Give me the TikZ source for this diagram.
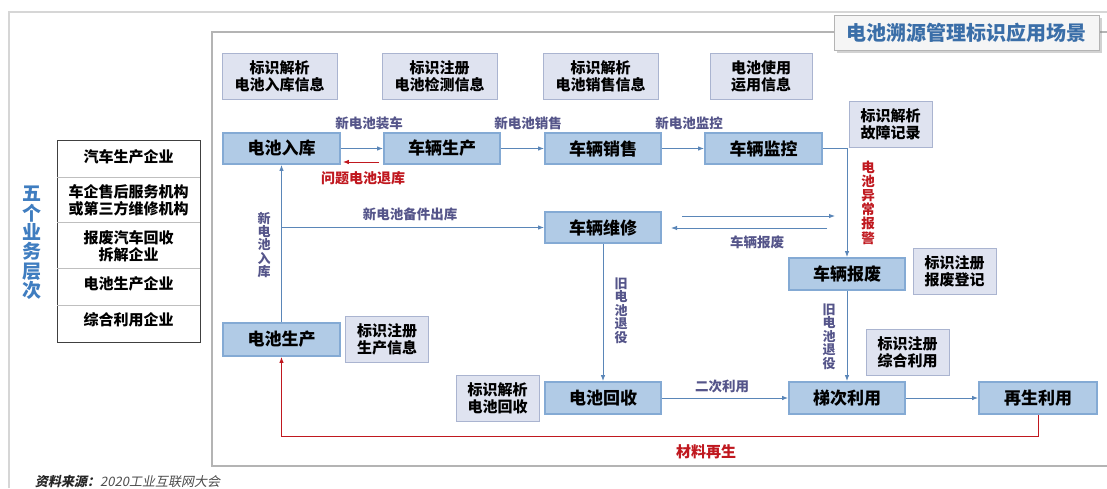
\documentclass[tikz,border=0pt]{standalone}
\usepackage{fontspec}
\setmainfont{Noto Sans CJK SC}
\newfontfamily\slantcjk{Noto Sans CJK SC}[FakeSlant=0.2]
\usetikzlibrary{arrows.meta,shadows}
\definecolor{mainfill}{HTML}{B1CBE6}
\definecolor{mainedge}{HTML}{84AAD4}
\definecolor{infofill}{HTML}{DFE3F0}
\definecolor{infoedge}{HTML}{AAB4D0}
\definecolor{linkblue}{HTML}{5A86B8}
\definecolor{lblgray}{HTML}{55558A}
\definecolor{alarmred}{HTML}{C0181F}
\definecolor{titleblue}{HTML}{3A6EA8}
\definecolor{layerblue}{HTML}{3F7DC0}
\definecolor{framegray}{HTML}{B4B4B4}

\begin{document}
\begin{tikzpicture}[x=1pt,y=-1pt,
    mainbox/.style={draw=mainedge, fill=mainfill, line width=1.8pt, minimum width=116pt,
      minimum height=31pt, inner sep=0pt, font=\fontsize{17}{20}\selectfont\bfseries},
    infobox/.style={draw=infoedge, fill=infofill, line width=0.8pt, minimum width=115pt,
      minimum height=46pt, inner sep=0pt, align=center, font=\fontsize{15}{17}\selectfont\bfseries},
    smallinfo/.style={infobox, minimum width=83pt},
    lbl/.style={text=lblgray, inner sep=0pt, font=\fontsize{13.5}{14}\selectfont\bfseries},
    vlbl/.style={lbl, align=center, font=\fontsize{13}{13.4}\selectfont\bfseries},
    link/.style={draw=linkblue, line width=0.9pt, -{Latex[length=6pt,width=4.5pt]}},
    backlink/.style={link, draw=alarmred},
    tbltext/.style={align=center, inner sep=0pt, font=\fontsize{15}{17}\selectfont\bfseries},
  ]
  \useasboundingbox (0,0) rectangle (1107,488);
  \fill[white] (0,0) rectangle (1107,488);

  % frames
  \draw[framegray!55, line width=1.2pt] (9,488) -- (9,12) -- (1107,12);
  \draw[framegray, line width=1.2pt] (1107,32) -- (212,32) -- (212,466) -- (1107,466);
  \node[draw=framegray, fill=gray!8, line width=0.8pt, drop shadow={opacity=0.35},
    minimum width=265pt, minimum height=35pt, inner sep=0pt, text=titleblue,
    font=\fontsize{20}{22}\selectfont\bfseries] (title) at (966.5,32.5) {电池溯源管理标识应用场景};

  % business layers
  \node[text=layerblue, align=center, inner sep=0pt,
    font=\fontsize{19}{19.4}\selectfont\bfseries] (layers) at (32,243) {五\\个\\业\\务\\层\\次};
  \draw[black!75, line width=1pt] (57,140) rectangle (200,342);
  \foreach \y in {177,222,268,305}
    \draw[black!25, line width=0.8pt] (57,\y) -- (200,\y);
  \node[tbltext] (car) at (128.5,157) {汽车生产企业};
  \node[tbltext] (service) at (128.5,200) {车企售后服务机构\\或第三方维修机构};
  \node[tbltext] (scrapper) at (128.5,246) {报废汽车回收\\拆解企业};
  \node[tbltext] (cellmaker) at (128.5,284) {电池生产企业};
  \node[tbltext] (reuser) at (128.5,320) {综合利用企业};

  % identifier boxes
  \node[infobox] (in1) at (279.5,76) {标识解析\\电池入库信息};
  \node[infobox] (in2) at (439.5,76) {标识注册\\电池检测信息};
  \node[infobox] (in3) at (600.5,76) {标识解析\\电池销售信息};
  \node[infobox, minimum width=102pt] (in4) at (761,76) {电池使用\\运用信息};
  \node[smallinfo] (in5) at (890.5,124) {标识解析\\故障记录};
  \node[smallinfo] (in6) at (954.5,271.5) {标识注册\\报废登记};
  \node[smallinfo] (in7) at (907.5,352.5) {标识注册\\综合利用};
  \node[smallinfo] (in8) at (497.5,398) {标识解析\\电池回收};
  \node[smallinfo] (in9) at (387,339) {标识注册\\生产信息};

  % process boxes
  \node[mainbox, minimum width=117pt] (stock) at (281.5,148.5) {电池入库};
  \node[mainbox] (assembly) at (442,148.5) {车辆生产};
  \node[mainbox] (sales) at (603,148.5) {车辆销售};
  \node[mainbox, minimum width=117pt] (monitor) at (763.5,148.5) {车辆监控};
  \node[mainbox] (repair) at (603,227.5) {车辆维修};
  \node[mainbox, minimum height=32pt] (scrap) at (847,274) {车辆报废};
  \node[mainbox, minimum width=117pt, minimum height=33pt] (produce) at (281.5,339.5) {电池生产};
  \node[mainbox, minimum height=32pt] (recycle) at (603,398) {电池回收};
  \node[mainbox, minimum height=32pt] (cascade) at (847,398) {梯次利用};
  \node[mainbox, minimum width=118pt, minimum height=32pt] (regen) at (1038,398) {再生利用};

  % connectors
  \draw[link] (stock.east) -- (assembly.west);
  \draw[backlink] ([xshift=-4pt,yshift=-13.5pt]assembly.west) -- ([xshift=2pt,yshift=-13.5pt]stock.east);
  \draw[link] (assembly.east) -- (sales.west);
  \draw[link] (sales.east) -- (monitor.west);
  \draw[link] (monitor.east) -| (scrap.north);
  \draw[link] (produce.north) -- (stock.south);
  \draw[link] (produce.north |- repair.west) -- (repair.west);
  \coordinate (toscrap) at (682,216);
  \coordinate (scrapend) at (835,216);
  \coordinate (fromscrap) at (827,228);
  \coordinate (backrepair) at (671,228);
  \draw[link] (toscrap) -- (scrapend);
  \draw[link] (fromscrap) -- (backrepair);
  \draw[link] (repair.south) -- (recycle.north);
  \draw[link] (scrap.south) -- (cascade.north);
  \draw[link] (recycle.east) -- (cascade.west);
  \draw[link] (cascade.east) -- (regen.west);
  \draw[backlink] (regen.south) -- ++(0,22) -| (produce.south);

  % connector labels
  \node[lbl] (mount) at (369,123) {新电池装车};
  \node[lbl] (sell) at (528,123) {新电池销售};
  \node[lbl] (watch) at (689,123) {新电池监控};
  \node[lbl, text=alarmred, font=\fontsize{14}{15}\selectfont\bfseries] (returned) at (363,178) {问题电池退库};
  \node[lbl] (spare) at (410,214) {新电池备件出库};
  \node[lbl] (scrapped) at (757,242) {车辆报废};
  \node[lbl] (second) at (722,386) {二次利用};
  \node[lbl, text=alarmred, font=\fontsize{15}{16}\selectfont\bfseries] (material) at (706,452) {材料再生};
  \node[vlbl] (instock) at (264,245) {新\\电\\池\\入\\库};
  \node[vlbl] (retire1) at (621,310.5) {旧\\电\\池\\退\\役};
  \node[vlbl] (retire2) at (829,336.5) {旧\\电\\池\\退\\役};
  \node[vlbl, text=alarmred, font=\fontsize{13.5}{14.2}\selectfont\bfseries] (alarm) at (868,202.5) {电\\池\\异\\常\\报\\警};

  % source
  \node[anchor=west, inner sep=0pt, font=\fontsize{13}{14}\selectfont\slantcjk] (source) at (35,482)
    {\textcolor{black!85}{\bfseries 资料来源：}\textcolor{black!70}{2020工业互联网大会}};
\end{tikzpicture}
\end{document}
